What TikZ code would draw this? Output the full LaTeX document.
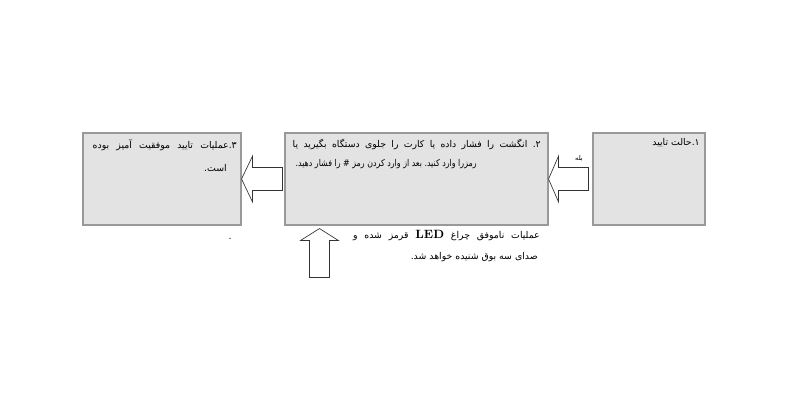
\documentclass[tikz,border=0pt]{standalone}
\usepackage{fontspec}
\usepackage{graphicx}
\newfontfamily\arabicfont[Script=Arabic]{DejaVu Sans}
\TeXXeTstate=1
\frenchspacing
\usetikzlibrary{positioning, calc}

\tikzset{
  box/.style={draw=gray!80, fill=gray!22, line width=0.8pt, inner sep=0pt, minimum height=69pt},
  fa/.style={font=\arabicfont\fontsize{7}{15}\selectfont, inner sep=0pt},
  blockarrow/.style={draw=black!80, fill=white, line width=0.5pt, line join=miter}
}

\begin{document}
\begin{tikzpicture}[x=0.75pt,y=-0.75pt]
\useasboundingbox (0,0) rectangle (800,400);
% the three boxes
\node[box, minimum width=84pt] (b1) at (649,179) {};
\node[box, minimum width=197.25pt] (b2) at (416.5,179) {};
\node[box, minimum width=118.5pt] (b3) at (162,179) {};
% texts in the boxes
\node[fa, anchor=east] (t1) at (700,143) {\beginR ۱.حالت تایید\endR};
\node[fa, anchor=east] (t2a) at (541,144) {\hbox to 186pt{\beginR ۲. انگشت را فشار داده یا کارت را جلوی دستگاه بگیرید یا\endR}};
\node[fa, anchor=east] (t2b) at (477,164) {\scalebox{0.85}[1]{\beginR رمزرا وارد کنید. بعد از وارد کردن رمز \# را فشار دهید.\endR}};
\node[fa, anchor=east] (t3a) at (237,145) {\hbox to 108pt{\beginR ۳.عملیات تایید موفقیت آمیز بوده\endR}};
\node[fa, anchor=east] (t3b) at (227,168) {\beginR است.\endR};
% block arrows
\draw[blockarrow] (b2.east) -- ++(10,-23) -- ++(0,11.5) -- ($(b1.west)+(-4,-11.5)$)
  -- ++(0,23) -- ($(b2.east)+(10,11.5)$) -- ++(0,11.5) -- cycle;
\draw[blockarrow] (b3.east) -- ++(11,-23) -- ++(0,11.5) -- ($(b2.west)+(-2,-11.5)$)
  -- ++(0,23) -- ($(b3.east)+(11,11.5)$) -- ++(0,11.5) -- cycle;
\coordinate (up) at ($(b2.south west)+(35,3)$);
\draw[blockarrow] (up) -- ++(19,12) -- ++(-9,0) -- ++(0,37) -- ++(-20,0)
  -- ++(0,-37) -- ++(-9,0) -- cycle;
\node[fa, font=\arabicfont\fontsize{5}{6}\selectfont] (yes) at (579,158) {\beginR بله\endR};
% text below
\node[fa, anchor=east] (f1) at (540,236) {\hbox to 140pt{\beginR عملیات ناموفق چراغ \beginL{\rmfamily\bfseries\fontsize{9}{10}\selectfont LED}\endL{} قرمز شده و\endR}};
\node[fa, anchor=east] (f2) at (538,257) {\beginR صدای سه بوق شنیده خواهد شد.\endR};
\node[fa] (dot) at (230,239) {.};
\end{tikzpicture}
\end{document}
